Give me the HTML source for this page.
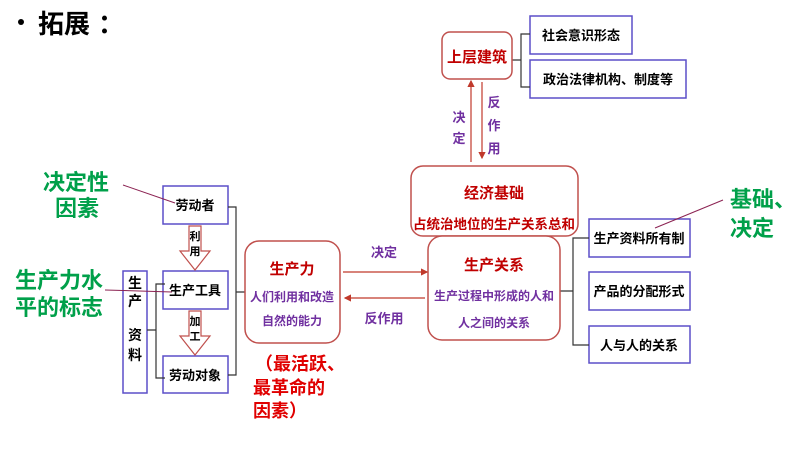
<!DOCTYPE html>
<html><head><meta charset="utf-8"><style>
body{margin:0;background:#fff}
svg text{font-family:"Liberation Sans","Noto Sans CJK SC",sans-serif;font-weight:bold}
</style></head><body>
<svg width="794" height="447" viewBox="0 0 794 447" xmlns="http://www.w3.org/2000/svg">
<defs>
<marker id="ar" markerWidth="6" markerHeight="6" refX="5" refY="3" orient="auto"><path d="M0,0 L6,3 L0,6 z" fill="#c0392b"/></marker>
</defs>
<circle cx="21" cy="22" r="3" fill="#000"/>
<text x="38" y="33" font-size="26" fill="#000">拓展</text>
<text x="98" y="33" font-size="26" fill="#000">：</text>

<g fill="#fff" stroke="#5b4fc8" stroke-width="1.5">
<rect x="163" y="186" width="65" height="38"/>
<rect x="163" y="271" width="65" height="38"/>
<rect x="163" y="356" width="65" height="37"/>
<rect x="123" y="271" width="24" height="122"/>
<rect x="530" y="16" width="102" height="38"/>
<rect x="530" y="60" width="156" height="38"/>
<rect x="589" y="219" width="101" height="38"/>
<rect x="589" y="272" width="101" height="38"/>
<rect x="589" y="326" width="101" height="37"/>
</g>
<g font-size="13" fill="#000" text-anchor="middle">
<text x="195" y="210">劳动者</text>
<text x="195" y="295">生产工具</text>
<text x="195" y="380">劳动对象</text>
<text x="581" y="40">社会意识形态</text>
<text x="608" y="84">政治法律机构、制度等</text>
<text x="639" y="243">生产资料所有制</text>
<text x="639" y="296">产品的分配形式</text>
<text x="639" y="350">人与人的关系</text>
</g>
<g font-size="14" fill="#000" text-anchor="middle">
<text x="135" y="288">生</text><text x="135" y="306">产</text><text x="135" y="340">资</text><text x="135" y="360">料</text>
</g>

<g fill="none" stroke="#333" stroke-width="1.2">
<path d="M147,330 H156 M165,284 H156 V378 H165"/>
<path d="M228,207 H236 V375 H228 M236,292 H245"/>
<path d="M512,60 H521 M530,34 H521 V87 H530"/>
<path d="M560,291 H573 M589,238 H573 V345 H589"/>
</g>

<g fill="#fff" stroke="#c0504d" stroke-width="1.2">
<path d="M189,226 H201 V251 H210 L195,270 L180,251 H189 Z"/>
<path d="M189,311 H201 V336 H210 L195,355 L180,336 H189 Z"/>
</g>
<g font-size="11" fill="#000" text-anchor="middle">
<text x="195" y="240">利</text><text x="195" y="255">用</text>
<text x="195" y="325">加</text><text x="195" y="340">工</text>
</g>

<g fill="#fff" stroke="#c0504d" stroke-width="1.5">
<rect x="245" y="241" width="95" height="102" rx="14"/>
<rect x="442" y="32" width="70" height="47" rx="8"/>
<rect x="411" y="166" width="167" height="70" rx="12"/>
<rect x="428" y="236" width="132" height="104" rx="14"/>
</g>
<g text-anchor="middle">
<text x="292" y="274" font-size="15" fill="#c00000">生产力</text>
<text x="292" y="301" font-size="12" fill="#7030a0">人们利用和改造</text>
<text x="292" y="325" font-size="12" fill="#7030a0">自然的能力</text>
<text x="477" y="62" font-size="15" fill="#c00000">上层建筑</text>
<text x="494" y="198" font-size="15" fill="#c00000">经济基础</text>
<text x="494" y="229" font-size="13.5" fill="#c00000">占统治地位的生产关系总和</text>
<text x="494" y="270" font-size="15" fill="#c00000">生产关系</text>
<text x="494" y="300" font-size="12" fill="#7030a0">生产过程中形成的人和</text>
<text x="494" y="327" font-size="12" fill="#7030a0">人之间的关系</text>
</g>

<g stroke="#c0392b" stroke-width="1.2" fill="none">
<line x1="343" y1="272" x2="427" y2="272" marker-end="url(#ar)"/>
<line x1="425" y1="298" x2="345" y2="298" marker-end="url(#ar)"/>
<line x1="471" y1="162" x2="471" y2="81" marker-end="url(#ar)"/>
<line x1="482" y1="82" x2="482" y2="158" marker-end="url(#ar)"/>
</g>
<g font-size="13" fill="#7030a0" text-anchor="middle">
<text x="384" y="257">决定</text>
<text x="384" y="323">反作用</text>
<text x="459" y="122">决</text><text x="459" y="143">定</text>
<text x="494" y="107">反</text><text x="494" y="130">作</text><text x="494" y="153">用</text>
</g>

<g font-size="22" fill="#00a04a">
<text x="43" y="190">决定性</text>
<text x="55" y="216">因素</text>
<text x="15" y="288">生产力水</text>
<text x="15" y="315">平的标志</text>
<text x="730" y="207">基础、</text>
<text x="730" y="236">决定</text>
</g>
<g stroke="#8b2252" stroke-width="1" fill="none">
<line x1="123" y1="185" x2="175" y2="203"/>
<line x1="105" y1="290" x2="172" y2="292"/>
<line x1="723" y1="200" x2="655" y2="228"/>
</g>

<g font-size="18" fill="#e00000">
<text x="255" y="370">（最活跃、</text>
<text x="253" y="394">最革命的</text>
<text x="253" y="417">因素）</text>
</g>
</svg>
</body></html>
